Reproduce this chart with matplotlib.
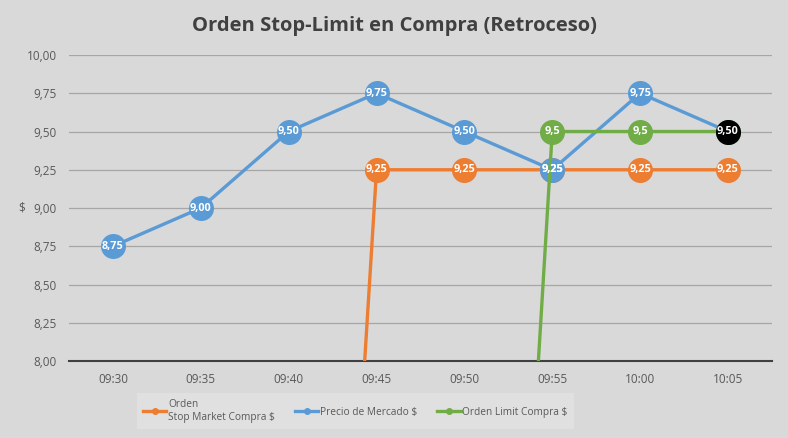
import matplotlib
matplotlib.use("Agg")
import matplotlib.pyplot as plt
from matplotlib.lines import Line2D
import numpy as np

categories = ["09:30", "09:35", "09:40", "09:45", "09:50", "09:55", "10:00", "10:05"]
stop_market = [0, 0, 0, 9.25, 9.25, 9.25, 9.25, 9.25]
market_price = [8.75, 9.00, 9.50, 9.75, 9.50, 9.25, 9.75, 9.50]
limit_order = [0, 0, 0, 0, 0, 9.5, 9.5, 9.5]
yticks = [8.00, 8.25, 8.50, 8.75, 9.00, 9.25, 9.50, 9.75, 10.00]

C_OR = "#ed7d31"
C_BL = "#5b9bd5"
C_GR = "#70ad47"
BG = "#d9d9d9"
TXT = "#595959"
FONT = ["Open Sans", "DejaVu Sans"]
plt.rcParams['font.family'] = FONT

fig = plt.figure(figsize=(7.88, 4.38), dpi=100, facecolor=BG)
ax = fig.add_axes([0.0876, 0.1758, 0.892, 0.6986], facecolor=BG)

x = np.arange(len(categories))
ymin, ymax = 8.0, 10.0
last = len(categories) - 1

def fmt2(v):
    return f"{v:.2f}".replace(".", ",")

def fmt_short(v):
    s = f"{v:.2f}".rstrip("0")
    if s.endswith("."):
        s = s[:-1]
    return s.replace(".", ",")

series = [
    (stop_market, C_OR, "Orden\nStop Market Compra $", fmt2),
    (market_price, C_BL, "Precio de Mercado $", fmt2),
    (limit_order, C_GR, "Orden Limit Compra $", fmt_short),
]
for i, (vals, col, lab, f) in enumerate(series):
    ax.plot(x, vals, color=col, lw=2.4, marker="o", ms=17, mec=col, mfc=col,
            label=lab, zorder=3 + i, solid_capstyle="round")
    for xi, v in zip(x, vals):
        if not (ymin <= v <= ymax):
            continue
        if xi == last and v == market_price[last]:
            continue  # covered by the highlighted final market price point
        ax.text(xi, v, f(v), ha="center", va="center", color="white",
                fontsize=7.8, fontweight="bold", zorder=10 + i)

# last market price point highlighted in black
ax.plot(x[last], market_price[last], marker="o", ms=17, color="black", zorder=20, ls="none")
ax.text(x[last], market_price[last], fmt2(market_price[last]), ha="center", va="center",
        color="white", fontsize=7.8, fontweight="bold", zorder=21)

ax.set_xlim(-0.5, len(categories) - 0.5)
ax.set_ylim(ymin, ymax)
ax.set_yticks(yticks)
ax.set_yticklabels([fmt2(v) for v in yticks])
ax.set_xticks(x)
ax.set_xticklabels(categories)
ax.tick_params(axis="both", length=0, colors=TXT, labelsize=8.5)
ax.tick_params(axis="y", pad=9)
ax.tick_params(axis="x", pad=9)
ax.grid(axis="y", color="#a6a6a6", lw=0.9, zorder=0)
for s in ["top", "right", "left"]:
    ax.spines[s].set_visible(False)
ax.spines["bottom"].set_color("#404040")
ax.spines["bottom"].set_linewidth(1.5)
ax.spines["bottom"].set_zorder(2.5)

fig.text(0.028, 0.524, "$", color=TXT, fontsize=8.5, ha="center", va="center")
fig.text(0.5, 0.94, "Orden Stop-Limit en Compra (Retroceso)", color="#404040",
         fontsize=14.5, fontweight="bold", ha="center", va="center")

labels = [s[2] for s in series]
hs = [Line2D([0], [0], color=c, lw=2.4, marker="o", ms=4) for c in (C_OR, C_BL, C_GR)]
leg = fig.legend(hs, labels, loc="center", bbox_to_anchor=(0.451, 0.062), ncol=3,
                 frameon=True, fontsize=7.3, handlelength=2.3, handletextpad=0.15,
                 columnspacing=2.0, borderpad=0.6)
leg.get_frame().set_facecolor("#e3e3e3")
leg.get_frame().set_edgecolor("none")
leg.get_frame().set_boxstyle("square", pad=0)
for t in leg.get_texts():
    t.set_color(TXT)

fig.savefig("out.png", dpi=100, facecolor=BG)
